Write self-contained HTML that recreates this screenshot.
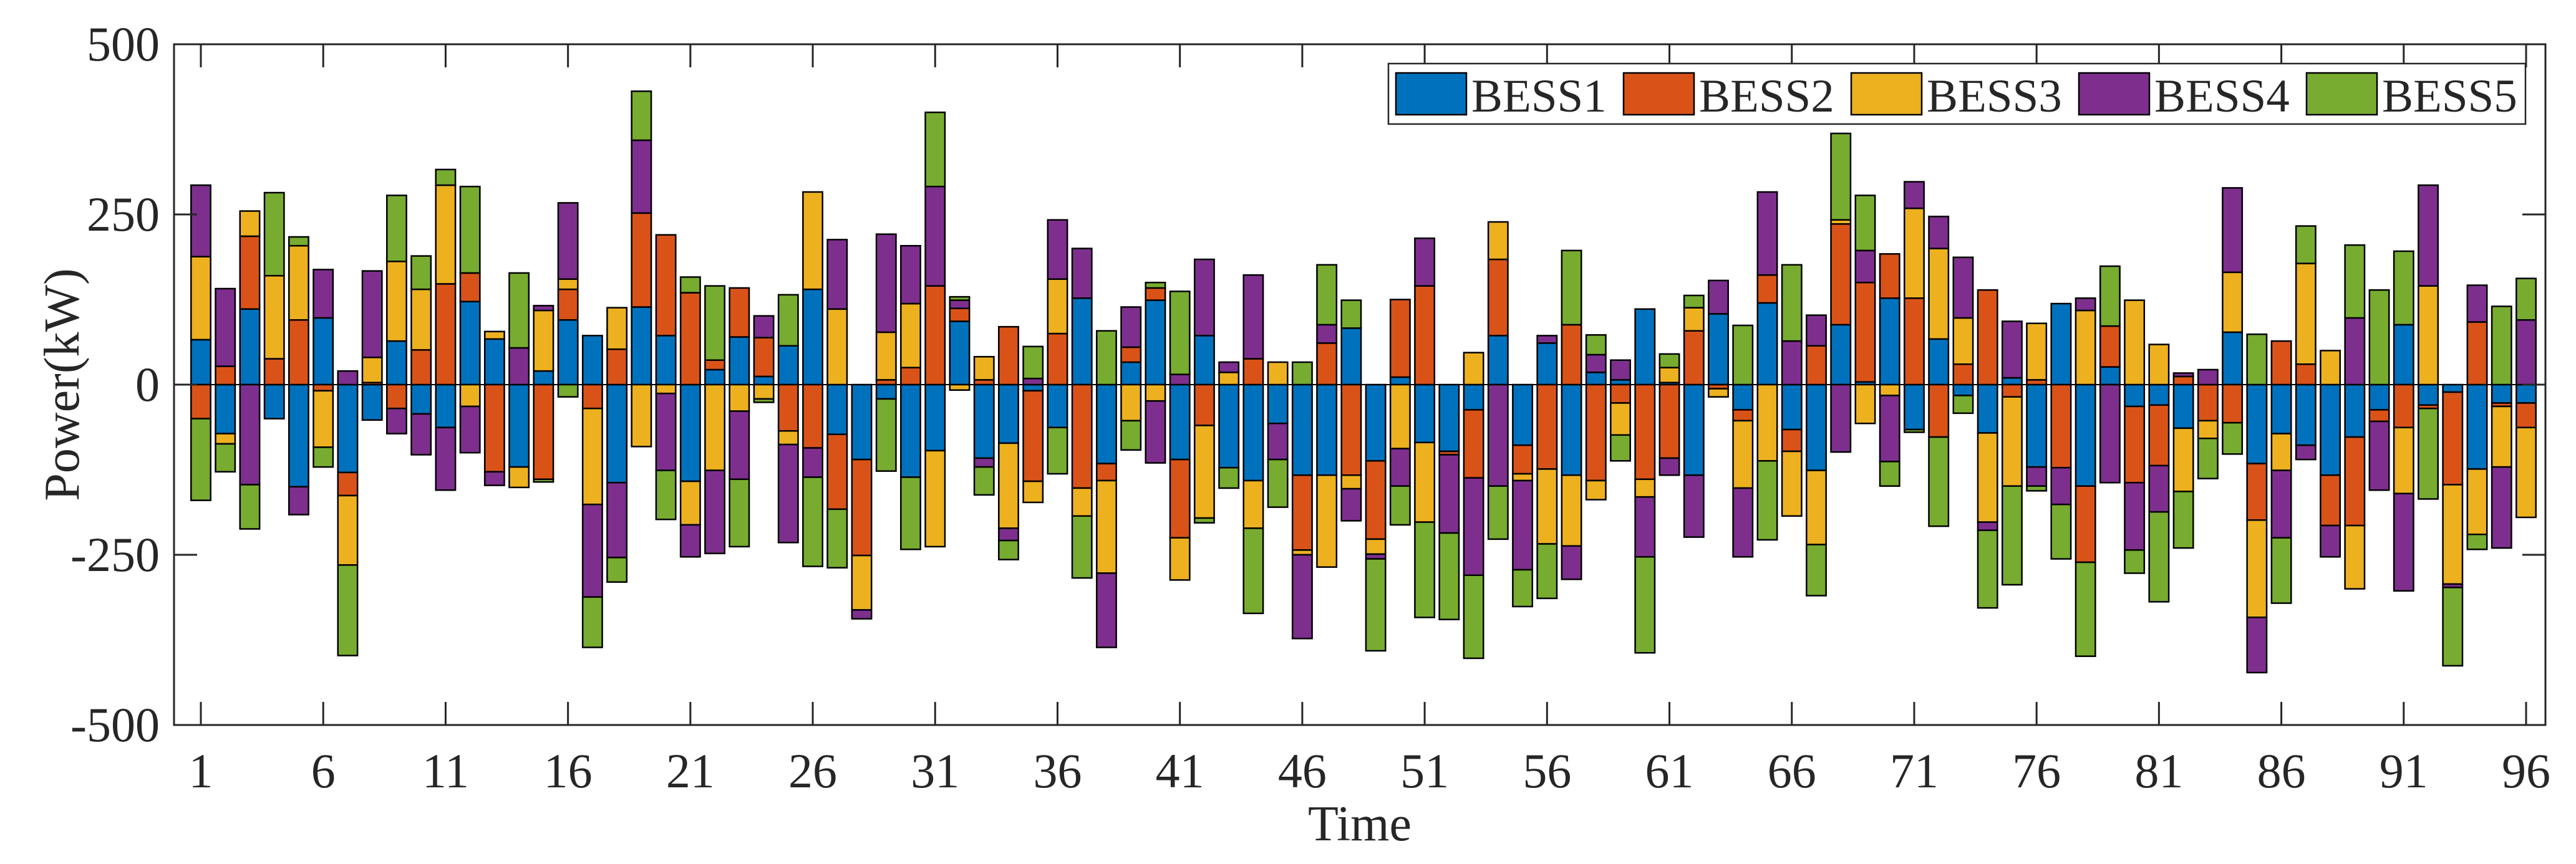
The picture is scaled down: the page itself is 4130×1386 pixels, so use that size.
<!DOCTYPE html>
<html><head><meta charset="utf-8"><style>
html,body{margin:0;padding:0;background:#fff;}
svg text{font-family:"Liberation Serif",serif;fill:#262626;}
</style></head>
<body>
<svg id="chart" width="4130" height="1381" viewBox="0 0 4130 1381" xmlns="http://www.w3.org/2000/svg">
<rect x="0" y="0" width="4130" height="1381" fill="#fff"/>
<g id="bars"></g>
<g id="axes"></g>
<g id="legend"></g>
</svg>
<script>
const seriesNames = ["BESS1","BESS2","BESS3","BESS4","BESS5"];
const seriesColors = ["#0072BD","#D95319","#EDB120","#7E2F8E","#77AC30"];
const xTickLabels = [1,6,11,16,21,26,31,36,41,46,51,56,61,66,71,76,81,86,91,96];
const yTickLabels = [-500,-250,0,250,500];
const bess1 = [66,-72,111,-50,-150,98,-129,-52,64,-43,-63,122,67,-121,20,95,72,-144,114,72,-142,22,70,12,57,140,-73,-110,-21,-136,-97,93,-108,-86,-9,-63,127,-116,33,124,-110,72,-122,-141,-57,-133,-133,83,-112,11,-85,-98,-37,72,-89,61,-133,18,7,111,3,-133,104,-37,120,-66,-126,88,4,127,-66,67,-16,-71,10,-121,119,-149,26,-32,-30,-64,0,77,-116,-72,-89,-133,-77,-37,88,-30,-11,-124,-27,-27];
const bess2 = [-50,27,107,38,95,-9,-34,3,-35,51,148,42,-128,0,-139,45,-35,52,138,148,135,14,72,57,-68,-93,-110,-141,7,25,145,19,7,85,-133,75,-152,-25,22,18,-115,-60,0,38,0,-110,61,-133,-115,114,145,-5,-100,112,-42,-124,88,-141,-27,-139,-108,79,-6,-16,41,-32,57,148,146,65,127,-77,30,139,-18,7,-122,-112,60,-112,-89,12,-53,-56,-83,64,30,-74,-130,-17,-63,-5,-136,92,-5,-36];
const bess3 = [122,-15,37,122,109,-83,-102,37,117,89,145,-32,11,-30,89,15,-141,61,-91,-13,-64,-126,-39,-21,-20,143,111,-80,70,94,-141,-8,34,-125,-31,80,-41,-136,-53,-24,-62,-136,18,-70,33,-7,-135,-20,-22,-94,-117,0,47,55,-10,-110,-104,-28,-47,-26,22,34,-12,-99,-112,-95,-109,6,-57,-16,132,133,68,-131,-131,83,0,109,0,124,59,-93,-26,88,-143,-54,148,50,-93,0,-97,145,-146,-96,-89,-132];
const bess4 = [105,114,-147,0,-41,71,20,127,-37,-60,-92,-68,-20,54,7,112,-136,-110,107,-113,-47,-122,-100,32,-144,-43,102,-13,144,85,146,12,-13,-18,9,87,73,-109,59,-91,15,112,15,123,-53,-123,27,-47,-7,-55,70,-115,-143,-149,-131,11,-49,26,29,-88,-25,-91,49,-101,122,64,45,-99,47,-97,39,47,89,-12,83,-28,-54,18,-144,-99,-68,5,22,124,-81,-99,-21,-46,98,-101,-143,148,-5,54,-119,95];
const bess5 = [-120,-41,-65,122,13,-29,-133,0,97,49,23,127,0,110,-4,-18,-74,-36,72,-72,23,109,-99,-5,75,-131,-86,0,-106,-106,109,5,-41,-28,47,-68,-91,79,-43,8,122,-7,-30,-125,-70,33,88,41,-135,-57,-140,-127,-122,-78,-54,-80,109,29,-38,-141,20,18,0,87,-116,112,-75,127,81,-36,-4,-131,-26,-114,-145,-7,-80,-138,88,-34,-132,-83,-59,-46,74,-96,55,0,107,139,108,-133,-115,-22,115,61];

const NS = "http://www.w3.org/2000/svg";
const L = 279, R = 4081, T = 71, B = 1163;
const X0 = 322, X1 = 4050;
function xScale(i){ return X0 + (i-1)*(X1-X0)/95; }
function yScale(v){ return T + (500 - v)*(B-T)/1000; }
const barW = 0.8*(X1-X0)/95;
function mk(tag, attrs, parent){
  const e = document.createElementNS(NS, tag);
  for (const k in attrs) e.setAttribute(k, attrs[k]);
  parent.appendChild(e); return e;
}
const gBars = document.getElementById('bars');
const all = [bess1,bess2,bess3,bess4,bess5];
for (let i = 0; i < 96; i++) {
  let pos = 0, neg = 0;
  const cx = xScale(i+1);
  for (let s = 0; s < 5; s++) {
    const v = all[s][i];
    if (!v) continue;
    let y0, y1;
    if (v > 0) { y0 = pos; y1 = pos + v; pos = y1; } else { y0 = neg; y1 = neg + v; neg = y1; }
    const top = yScale(Math.max(y0,y1)), bot = yScale(Math.min(y0,y1));
    const r = mk('rect', {x: cx-barW/2, y: top, width: barW, height: bot-top, fill: seriesColors[s], stroke: '#000', 'stroke-width': 2.5}, gBars);
    
    
  }
}
const gA = document.getElementById('axes');
const zl = mk('line', {x1: L, x2: R, y1: yScale(0), y2: yScale(0), stroke: '#000', 'stroke-width': 2}, gA);


const box = mk('rect', {x: L, y: T, width: R-L, height: B-T, fill: 'none', stroke: '#262626', 'stroke-width': 3}, gA);


const TL = 37;
for (const v of xTickLabels) {
  const x = xScale(v);
  mk('line', {x1: x, x2: x, y1: B, y2: B-TL, stroke: '#262626', 'stroke-width': 3}, gA);
  mk('line', {x1: x, x2: x, y1: T, y2: T+TL, stroke: '#262626', 'stroke-width': 3}, gA);
  const t = mk('text', {x: x, y: 1263, 'font-size': 78, 'text-anchor': 'middle'}, gA);
  t.textContent = v;
  
  
}
for (const v of yTickLabels) {
  const y = yScale(v);
  mk('line', {x1: L, x2: L+TL, y1: y, y2: y, stroke: '#262626', 'stroke-width': 3}, gA);
  mk('line', {x1: R, x2: R-TL, y1: y, y2: y, stroke: '#262626', 'stroke-width': 3}, gA);
  const t = mk('text', {x: 256, y: y+26, 'font-size': 78, 'text-anchor': 'end'}, gA);
  t.textContent = v;
  
  
}
const xt = mk('text', {x: (L+R)/2, y: 1348, 'font-size': 80, 'text-anchor': 'middle'}, gA);
xt.textContent = 'Time';


const yt = mk('text', {x: 0, y: 0, 'font-size': 80, 'text-anchor': 'middle', transform: 'translate(126,' + ((T+B)/2) + ') rotate(-90)'}, gA);
yt.textContent = 'Power(kW)';



const gL = document.getElementById('legend');
const lb = mk('rect', {x: 2226, y: 102, width: 4049-2226, height: 97, fill: '#fff', stroke: '#262626', 'stroke-width': 2.5}, gL);


for (let s = 0; s < 5; s++) {
  const x = 2238 + s*365;
  const sw = mk('rect', {x: x, y: 117, width: 113, height: 67, fill: seriesColors[s], stroke: '#000', 'stroke-width': 2.5}, gL);
  
  
  const t = mk('text', {x: x+121, y: 179, 'font-size': 75}, gL);
  t.textContent = seriesNames[s];
  
  
}
</script>
</body></html>
